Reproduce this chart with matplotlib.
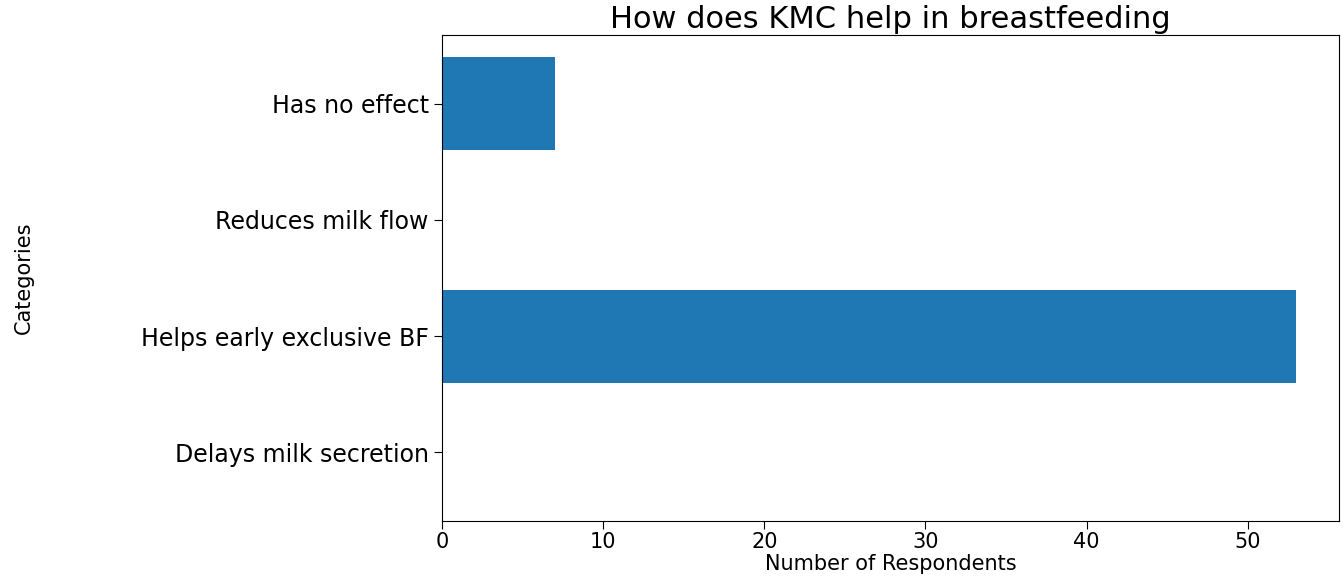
import matplotlib
matplotlib.use("Agg")
import matplotlib.pyplot as plt

categories = ["Delays milk secretion", "Helps early exclusive BF",
              "Reduces milk flow", "Has no effect"]
counts = [0, 53, 0, 7]

fig = plt.figure(figsize=(13.43, 5.8), dpi=100)
ax = fig.add_axes([0.329, 0.1017, 0.668, 0.838])

ax.barh(categories, counts, color="#1f77b4")

ax.set_title("How does KMC help in breastfeeding", fontsize=22, pad=5)
ax.set_xlabel("Number of Respondents", fontsize=15, labelpad=1)
ax.set_ylabel("Categories", fontsize=15)
ax.yaxis.set_label_coords(-0.455, 0.5)
ax.tick_params(axis="y", labelsize=17, length=6)
ax.tick_params(axis="x", labelsize=15, length=6, pad=2)

fig.savefig("out.png", dpi=100)
